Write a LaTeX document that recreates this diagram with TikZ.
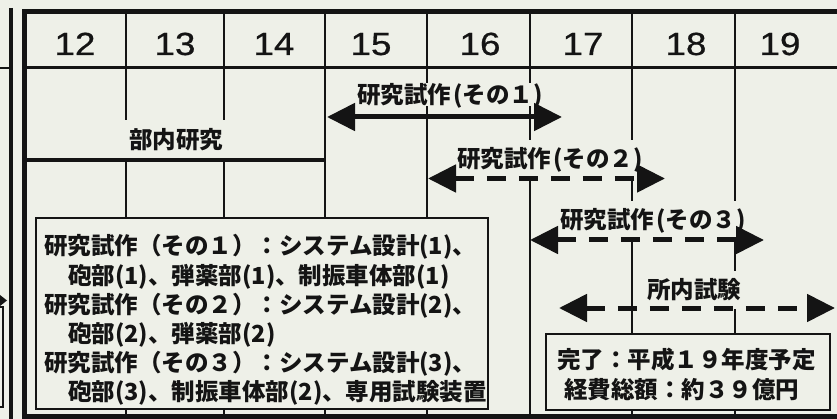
\documentclass[tikz,border=0pt]{standalone}
\usepackage{fontspec}
\newfontfamily\jpfont{Noto Sans CJK JP}
\newfontfamily\numfont{Liberation Sans}[FakeStretch=1.15,FakeBold=0.6]
\usetikzlibrary{arrows.meta}
\definecolor{bgc}{RGB}{238,240,232}
\definecolor{ink}{RGB}{20,20,20}
\begin{document}
\begin{tikzpicture}[x=1pt,y=-1pt,
  grid/.style={draw=ink,line width=2.2pt},
  hdr/.style={font=\numfont\fontsize{32}{32}\selectfont,anchor=base,text=ink,inner sep=0pt},
  jp/.style={font=\jpfont\bfseries\fontsize{23.5}{28}\selectfont,text=ink},
  lbl/.style={jp,fill=bgc,inner xsep=1pt,text height=19pt,text depth=2pt},
  legline/.style={jp,anchor=base west,inner sep=0pt},
  boxst/.style={draw=ink,line width=2.2pt,fill=bgc},
  bar/.style={draw=ink,line width=5pt,{Triangle[length=28pt,width=27pt]}-{Triangle[length=28pt,width=27pt]}},
  dbar/.style={bar,dash pattern=on 19pt off 13pt}
]
\useasboundingbox (0,0) rectangle (837,419);
\fill[bgc] (0,0) rectangle (837,419);

% left strip (previous table)
\draw[ink,line width=4pt] (11,8) -- (11,419);
\draw[ink,line width=2pt] (0,68) -- (11,68);
\fill[ink] (0,295) -- (7,300.5) -- (0,306) -- cycle;
\draw[ink,line width=1.5pt] (0,307) -- (3,307) -- (3,407) -- (0,407);

% grid
\draw[grid] (126,12) -- (126,120);
\draw[grid] (126,160) -- (126,416);
\draw[grid] (224,12) -- (224,120);
\draw[grid] (224,160) -- (224,416);
\draw[grid] (325,12) -- (325,416);
\draw[grid] (427,12) -- (427,416);
\draw[grid] (530,12) -- (530,140);
\draw[grid] (530,178) -- (530,416);
\draw[grid] (632,12) -- (632,416);
\draw[grid] (735,12) -- (735,416);
\draw[ink,line width=3pt] (24,68) -- (837,68);
\draw[ink,line width=4pt] (24,160) -- (325,160);

% boxes
\draw[boxst] (36,218) rectangle (488,409);
\draw[boxst] (546,334) rectangle (830,410);

% frame
\draw[ink,line width=5pt] (842,12) -- (24,12) -- (24,416) -- (842,416);

% header
\node[hdr] (h12) at (75,55) {12};
\node[hdr] (h13) at (175,55) {13};
\node[hdr] (h14) at (274,55) {14};
\node[hdr] (h15) at (371,55) {15};
\node[hdr] (h16) at (480,55) {16};
\node[hdr] (h17) at (583,55) {17};
\node[hdr] (h18) at (686,55) {18};
\node[hdr] (h19) at (780,55) {19};

% labels
\node[jp,inner sep=0pt] (bunai) at (176,140) {部内研究};
\node[lbl,inner ysep=1pt] (lab1) at (450,95) {研究試作\kern2pt(その１)};
\node[lbl,inner ysep=8pt] (lab2) at (550,159) {研究試作\kern2pt(その２)};
\node[lbl,inner ysep=8pt] (lab3) at (653,220) {研究試作\kern2pt(その３)};
\node[lbl,inner ysep=8pt] (lab4) at (694,290) {所内試験};

% arrows
\coordinate (a1s) at (327,117);
\coordinate (a1e) at (562,117);
\coordinate (a2s) at (428,178.5);
\coordinate (a2e) at (665,178.5);
\coordinate (a3s) at (530,240);
\coordinate (a3e) at (764,240);
\coordinate (a4s) at (559,308);
\coordinate (a4e) at (835,308);
\draw[bar] (a1s) -- (a1e);
\draw[dbar] (a2s) -- (a2e);
\draw[dbar] (a3s) -- (a3e);
\draw[dbar] (a4s) -- (a4e);

% legend
\node[legline] (leg1) at (44,255) {研究試作（その１）：システム設計(1)、};
\node[legline] (leg2) at (68,284) {砲部(1)、弾薬部(1)、制振車体部(1)};
\node[legline] (leg3) at (44,313) {研究試作（その２）：システム設計(2)、};
\node[legline] (leg4) at (68,342) {砲部(2)、弾薬部(2)};
\node[legline] (leg5) at (44,371) {研究試作（その３）：システム設計(3)、};
\node[legline] (leg6) at (68,400) {砲部(3)、制振車体部(2)、専用試験装置};

% completion box
\node[legline] (kan1) at (557,368) {完了：平成１９年度予定};
\node[legline] (kan2) at (564,398) {経費総額：約３９億円};
\end{tikzpicture}
\end{document}
